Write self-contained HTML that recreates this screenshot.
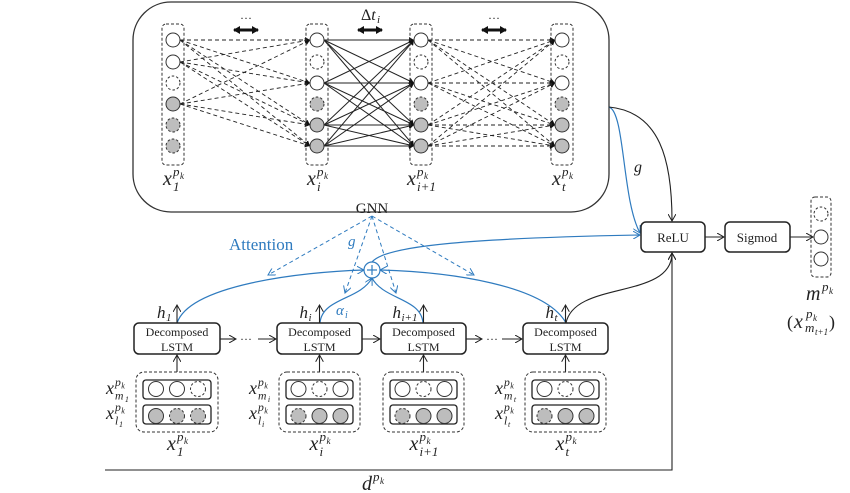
<!DOCTYPE html>
<html><head><meta charset="utf-8"><style>
body{margin:0;background:#fff;width:850px;height:493px;overflow:hidden}
svg{display:block}
text{font-family:"Liberation Serif",serif;fill:#222}
.m{font-family:"Liberation Serif",serif;font-style:italic}
</style></head><body>
<svg id="s" width="850" height="493" viewBox="0 0 850 493" xmlns="http://www.w3.org/2000/svg">
<defs>
<marker id="a" markerWidth="8" markerHeight="8" refX="7" refY="4" orient="auto" markerUnits="userSpaceOnUse"><path d="M0,0 L7,4 L0,8" fill="none" stroke="#222" stroke-width="1"/></marker>
<marker id="ab" markerWidth="8" markerHeight="8" refX="7" refY="4" orient="auto" markerUnits="userSpaceOnUse"><path d="M0,0 L7,4 L0,8" fill="none" stroke="#2f7bbf" stroke-width="1"/></marker>
<marker id="af" markerWidth="6" markerHeight="6" refX="5" refY="3" orient="auto" markerUnits="userSpaceOnUse"><path d="M0,0 L5,3 L0,6Z" fill="#111"/></marker>
<marker id="db" markerWidth="8" markerHeight="8" refX="6" refY="4" orient="auto-start-reverse" markerUnits="userSpaceOnUse"><path d="M0,0 L7,4 L0,8Z" fill="#111"/></marker>
</defs>
<rect x="133" y="2" width="476" height="210" rx="38" fill="none" stroke="#333" stroke-width="1.3"/>
<g id="g"></g>
<g stroke="#111" stroke-width="3">
<line x1="234" y1="30" x2="258" y2="30" marker-start="url(#db)" marker-end="url(#db)"/>
<line x1="358" y1="30" x2="382" y2="30" marker-start="url(#db)" marker-end="url(#db)"/>
<line x1="482" y1="30" x2="506" y2="30" marker-start="url(#db)" marker-end="url(#db)"/>
</g>
<text x="246" y="22" font-size="12" text-anchor="middle">···</text>
<text x="494" y="22" font-size="12" text-anchor="middle">···</text>
<text x="361" y="20" font-size="16" font-family="Liberation Sans">Δ<tspan class="m">t</tspan></text>
<text x="377" y="23" font-size="11" class="m">i</text>

<text x="372" y="213" font-size="15" text-anchor="middle">GNN</text>
<text x="229" y="250" font-size="17" style="fill:#2f7bbf">Attention</text>
<text x="348" y="246" class="m" font-size="15" style="fill:#2f7bbf">g</text>
<text x="336" y="315" class="m" font-size="15" style="fill:#2f7bbf">α</text>
<text x="345" y="318" class="m" font-size="10" style="fill:#2f7bbf">i</text>
<text x="634" y="172" class="m" font-size="16">g</text>

<g fill="none" stroke="#2f7bbf" stroke-width="1.2">
<path d="M177,323 C190,285 300,272 364,270" marker-end="url(#ab)"/>
<path d="M566,323 C545,285 450,272 380,270" marker-end="url(#ab)"/>
<path d="M320,323 C322,298 360,300 372,278" marker-end="url(#ab)"/>
<path d="M423,323 C421,298 384,300 372,278"/>
<path d="M372,262 C385,245 480,238 640,235" marker-end="url(#ab)"/>
<path d="M609,107 C625,112 622,200 640,233" marker-end="url(#ab)"/>
<circle cx="372" cy="270" r="8" fill="#fff"/>
<line x1="367" y1="270" x2="377" y2="270"/><line x1="372" y1="265" x2="372" y2="275"/>
</g>
<g fill="none" stroke="#2f7bbf" stroke-width="1" stroke-dasharray="4,3">
<line x1="372" y1="216" x2="268" y2="275" marker-end="url(#ab)"/>
<line x1="372" y1="216" x2="345" y2="293" marker-end="url(#ab)"/>
<line x1="372" y1="216" x2="396" y2="293" marker-end="url(#ab)"/>
<line x1="372" y1="216" x2="474" y2="275" marker-end="url(#ab)"/>
</g>
<g fill="none" stroke="#222" stroke-width="1.1">
<path d="M609,107 C660,112 672,160 672,221" marker-end="url(#a)"/>
<path d="M566,323 C575,280 672,300 672,253" marker-end="url(#a)"/>
<path d="M105,470 L672,470 L672,253" marker-end="url(#a)"/>
<line x1="705" y1="237" x2="724" y2="237" marker-end="url(#a)"/>
<line x1="790" y1="237" x2="813" y2="237" marker-end="url(#a)"/>
</g>
<rect x="641" y="222" width="64" height="30" rx="5" fill="#fff" stroke="#222" stroke-width="1.5"/>
<text x="673" y="242" font-size="13" text-anchor="middle">ReLU</text>
<rect x="725" y="222" width="65" height="30" rx="5" fill="#fff" stroke="#222" stroke-width="1.5"/>
<text x="757" y="242" font-size="13" text-anchor="middle">Sigmod</text>
<rect x="811" y="197" width="20" height="80" rx="4" fill="none" stroke="#333" stroke-dasharray="3,2"/>
<circle cx="821" cy="214" r="7" fill="#fff" stroke="#333" stroke-dasharray="2.5,2"/>
<circle cx="821" cy="237" r="7" fill="#fff" stroke="#333"/>
<circle cx="821" cy="259" r="7" fill="#fff" stroke="#333"/>
<text x="806" y="300" class="m" font-size="20">m</text>
<text x="822" y="291" class="m" font-size="13">p</text><text x="829" y="294" class="m" font-size="9">k</text>
<text x="787" y="328" font-size="18">(</text>
<text x="794" y="328" class="m" font-size="20">x</text>
<text x="806" y="318" class="m" font-size="13">p</text><text x="813" y="321" class="m" font-size="9">k</text>
<text x="805" y="332" class="m" font-size="13">m</text><text x="815" y="335" class="m" font-size="9">t+1</text>
<text x="829" y="328" font-size="18">)</text>
<text x="362" y="490" class="m" font-size="20">d</text>
<text x="373" y="481" class="m" font-size="13">p</text><text x="380" y="484" class="m" font-size="9">k</text>
<g id="b"></g>
</svg>
<script>
var NS="http://www.w3.org/2000/svg";
function el(p,t,a,txt){var e=document.createElementNS(NS,t);for(var k in a)e.setAttribute(k,a[k]);if(txt!=null)e.textContent=txt;p.appendChild(e);return e;}
var g=document.getElementById("g"),b=document.getElementById("b");
var ys=[40,62,83,104,125,146];
var cols=[173,317,421,562];
var types=[[0,0,1,2,3,3],[0,1,0,3,2,2],[0,1,0,3,2,2],[0,1,0,3,2,2]];
function edges(x1,src,x2,dst,dash){src.forEach(function(i){dst.forEach(function(j){var a={x1:x1+7,y1:ys[i],x2:x2-7,y2:ys[j],stroke:"#222","stroke-width":dash?0.9:1,"marker-end":"url(#af)"};if(dash)a["stroke-dasharray"]="4,3";el(g,"line",a);});});}
edges(173,[0,1,3],317,[0,2,4,5],true);
edges(317,[0,2,4,5],421,[0,2,4,5],false);
edges(421,[0,2,4,5],562,[0,2,4,5],true);
cols.forEach(function(x,c){
 el(g,"rect",{x:x-11,y:24,width:22,height:141,rx:4,fill:"none",stroke:"#333","stroke-dasharray":"3,2"});
 ys.forEach(function(y,i){var t=types[c][i];var a={cx:x,cy:y,r:7,fill:(t>=2?"#bdbdbd":"#fff"),stroke:"#333","stroke-width":1};if(t==1||t==3)a["stroke-dasharray"]="2.5,2";el(g,"circle",a);});
});
function lab(p,x,y,sub,sub2,fs){fs=fs||20;
 el(p,"text",{x:x,y:y,"font-size":fs,"class":"m"},"x");
 var sx=x+fs*0.5;
 el(p,"text",{x:sx,y:y-fs*0.45,"font-size":fs*0.65,"class":"m"},"p");
 el(p,"text",{x:sx+fs*0.35,y:y-fs*0.3,"font-size":fs*0.45,"class":"m"},"k");
 el(p,"text",{x:sx,y:y+fs*0.3,"font-size":fs*0.65,"class":"m"},sub);
 if(sub2)el(p,"text",{x:sx+fs*(sub=="m"?0.55:0.22),y:y+fs*0.45,"font-size":fs*0.45,"class":"m"},sub2);
}
var subs=["1","i","i+1","t"];
cols.forEach(function(x,c){lab(g,x-10-(c==2?4:0),185,subs[c]);});
var bx=[[134,220],[277,362],[381,466],[523,608]];
var circT=[[[0,0,1],[2,3,3]],[[0,1,0],[3,2,2]],[[0,1,0],[3,2,2]],[[0,1,0],[3,2,2]]];
var hs=["1","i","i+1","t"];
bx.forEach(function(r,k){
 var cx=(r[0]+r[1])/2;
 el(b,"rect",{x:r[0],y:323,width:r[1]-r[0],height:31,rx:5,fill:"#fff",stroke:"#222","stroke-width":1.5});
 el(b,"text",{x:cx,y:336,"font-size":12,"text-anchor":"middle"},"Decomposed");
 el(b,"text",{x:cx,y:351,"font-size":12,"text-anchor":"middle"},"LSTM");
 el(b,"line",{x1:cx,y1:323,x2:cx,y2:305,stroke:"#222","stroke-width":1.1,"marker-end":"url(#a)"});
 var hx=cx-(k==2?31:20);
 el(b,"text",{x:hx,y:318,"font-size":17,"class":"m"},"h");
 el(b,"text",{x:hx+9,y:321,"font-size":11,"class":"m"},hs[k]);
 el(b,"line",{x1:cx,y1:372,x2:cx,y2:355,stroke:"#222","stroke-width":1.1,"marker-end":"url(#a)"});
 el(b,"rect",{x:r[0]+2,y:372,width:r[1]-r[0]-4,height:60,rx:8,fill:"none",stroke:"#333","stroke-dasharray":"3,2"});
 [[380,387],[405,414]].forEach(function(rr,ri){
  el(b,"rect",{x:r[0]+9,y:rr[0],width:r[1]-r[0]-18,height:19,rx:3,fill:"none",stroke:"#222","stroke-width":1.3});
  for(var q=0;q<3;q++){var t=circT[k][ri][q];var a={cx:cx-21+21*q,cy:rr[1]+2,r:7.5,fill:(t>=2?"#bdbdbd":"#fff"),stroke:"#333"};if(t==1||t==3)a["stroke-dasharray"]="2.5,2";el(b,"circle",a);}
 });
 if(k!=2){var lx=r[0]-28;
  lab(b,lx,394,"m",hs[k],18);
  lab(b,lx,419,"l",hs[k],18);}
 lab(b,cx-10-(k==2?4:0),450,subs[k]);
});
function arr(x1,x2){el(b,"line",{x1:x1,y1:339,x2:x2,y2:339,stroke:"#222","stroke-width":1.1,"marker-end":"url(#a)"});}
arr(220,236);el(b,"text",{x:246,y:343,"font-size":12,"text-anchor":"middle"},"···");arr(258,276);
arr(362,380);
arr(466,482);el(b,"text",{x:492,y:343,"font-size":12,"text-anchor":"middle"},"···");arr(502,522);
</script>
</body></html>
